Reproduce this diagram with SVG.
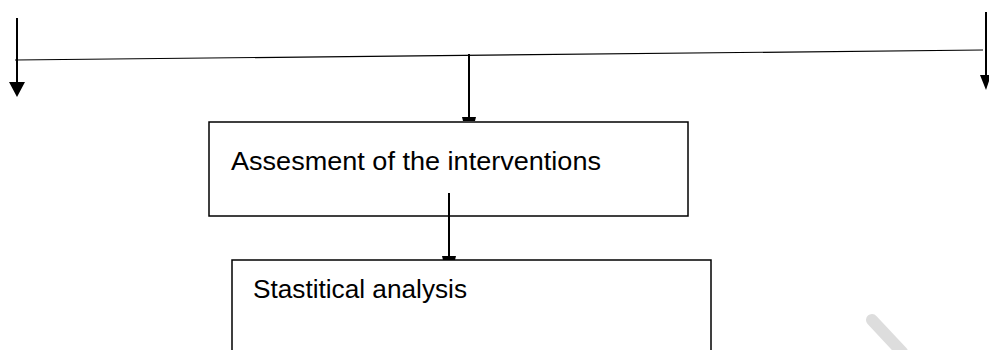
<svg xmlns="http://www.w3.org/2000/svg" width="989" height="350" viewBox="0 0 989 350">
<style>
.box{fill:#fff;stroke:#000;stroke-width:1.5}
.lbl{font-family:"Liberation Sans","Open Sans",sans-serif;font-size:25px;fill:#000}
.conn{stroke:#000;stroke-width:2;fill:none}
</style>
<rect width="989" height="350" fill="#fff"/>
<g id="n1">
<rect class="box" x="209" y="122" width="479" height="94"/>
<text class="lbl" x="231" y="170" textLength="370" lengthAdjust="spacingAndGlyphs">Assesment of the interventions</text>
</g>
<g id="n2">
<rect class="box" x="232" y="260" width="479" height="100"/>
<text class="lbl" x="253" y="298" textLength="214" lengthAdjust="spacingAndGlyphs">Stastitical analysis</text>
</g>
<g id="connectors">
<line x1="15" y1="60" x2="983" y2="50" stroke="#000" stroke-width="1.2"/>
<line class="conn" x1="17" y1="18" x2="17" y2="82"/>
<path d="M9,82 L25,82 L17,97 Z" fill="#000"/>
<line class="conn" x1="986" y1="12" x2="986" y2="76"/>
<path d="M980,75 L991,75 L986,90 Z" fill="#000"/>
<line class="conn" x1="469" y1="54" x2="469" y2="118"/>
<path d="M462,117 L476,117 L475,121 L463,121 Z" fill="#000"/>
<line class="conn" x1="449" y1="193" x2="449" y2="256"/>
<path d="M442,256 L456,256 L455,260 L443,260 Z" fill="#000"/>
</g>
<line x1="872" y1="320" x2="902" y2="352" stroke="#ddd" stroke-width="12" stroke-linecap="round"/>
</svg>
